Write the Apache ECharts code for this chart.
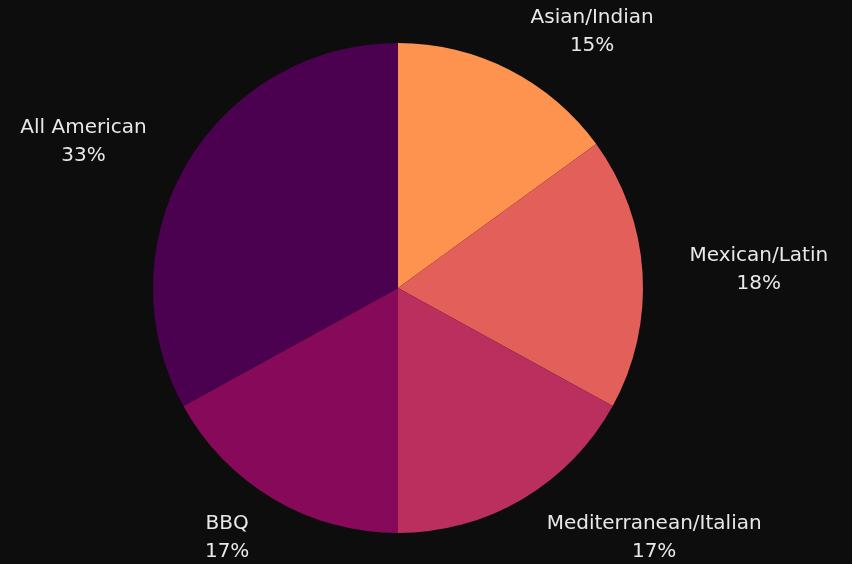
<!DOCTYPE html>
<html>
<head>
<meta charset="utf-8">
<script src="https://cdn.jsdelivr.net/npm/echarts@6/dist/echarts.min.js"></script>
<style>
  html, body { margin: 0; padding: 0; background: #0d0d0d; }
  #chart { width: 852px; height: 564px; }
</style>
</head>
<body>
<div id="chart"></div>
<script>
// Cuisine share, clockwise from 12 o'clock
const categories = ['Asian/Indian', 'Mexican/Latin', 'Mediterranean/Italian', 'BBQ', 'All American'];
const shares = [15, 18, 17, 17, 33];
const sliceColors = ['#fe9350', '#e3605a', '#bb2f5e', '#86095a', '#4b0050'];

const CX = 398, CY = 288, R = 245, GAP = 28, HPAD = 19;
const total = shares.reduce((a, b) => a + b, 0);

// mid angle (radians, clockwise from top) of each slice
const midAngles = [];
let acc = 0;
shares.forEach(v => {
  midAngles.push(((acc + v / 2) / total) * Math.PI * 2);
  acc += v;
});

const chart = echarts.init(document.getElementById('chart'), null, { renderer: 'canvas' });

chart.setOption({
  backgroundColor: '#0d0d0d',
  animation: false,
  series: [{
    type: 'pie',
    center: [CX, CY],
    radius: [0, R],
    startAngle: 90,
    clockwise: true,
    avoidLabelOverlap: false,
    data: categories.map((name, i) => ({
      name,
      value: shares[i],
      itemStyle: { color: sliceColors[i] }
    })),
    itemStyle: { borderWidth: 0 },
    label: {
      show: true,
      position: 'outside',
      formatter: p => p.name + '\n' + Math.round(p.percent) + '%',
      color: '#e8e8e8',
      fontFamily: 'DejaVu Sans',
      fontSize: 20,
      lineHeight: 28
    },
    labelLine: { show: false, length: 10, length2: 0 },
    labelLayout: params => {
      const a = midAngles[params.dataIndex];
      const dx = Math.sin(a), dy = -Math.cos(a);
      const px = CX + (R + GAP) * dx + HPAD * dx;
      const py = CY + (R + GAP) * dy;
      const w = params.labelRect.width, h = params.labelRect.height;
      const sx = Math.abs(dx) < 0.05 ? 0 : Math.sign(dx);
      return {
        x: px + sx * w / 2,
        y: py + dy * h / 4 + (dy > 0 ? 3 : 0),
        align: 'center',
        verticalAlign: 'middle'
      };
    }
  }]
});
</script>
</body>
</html>
